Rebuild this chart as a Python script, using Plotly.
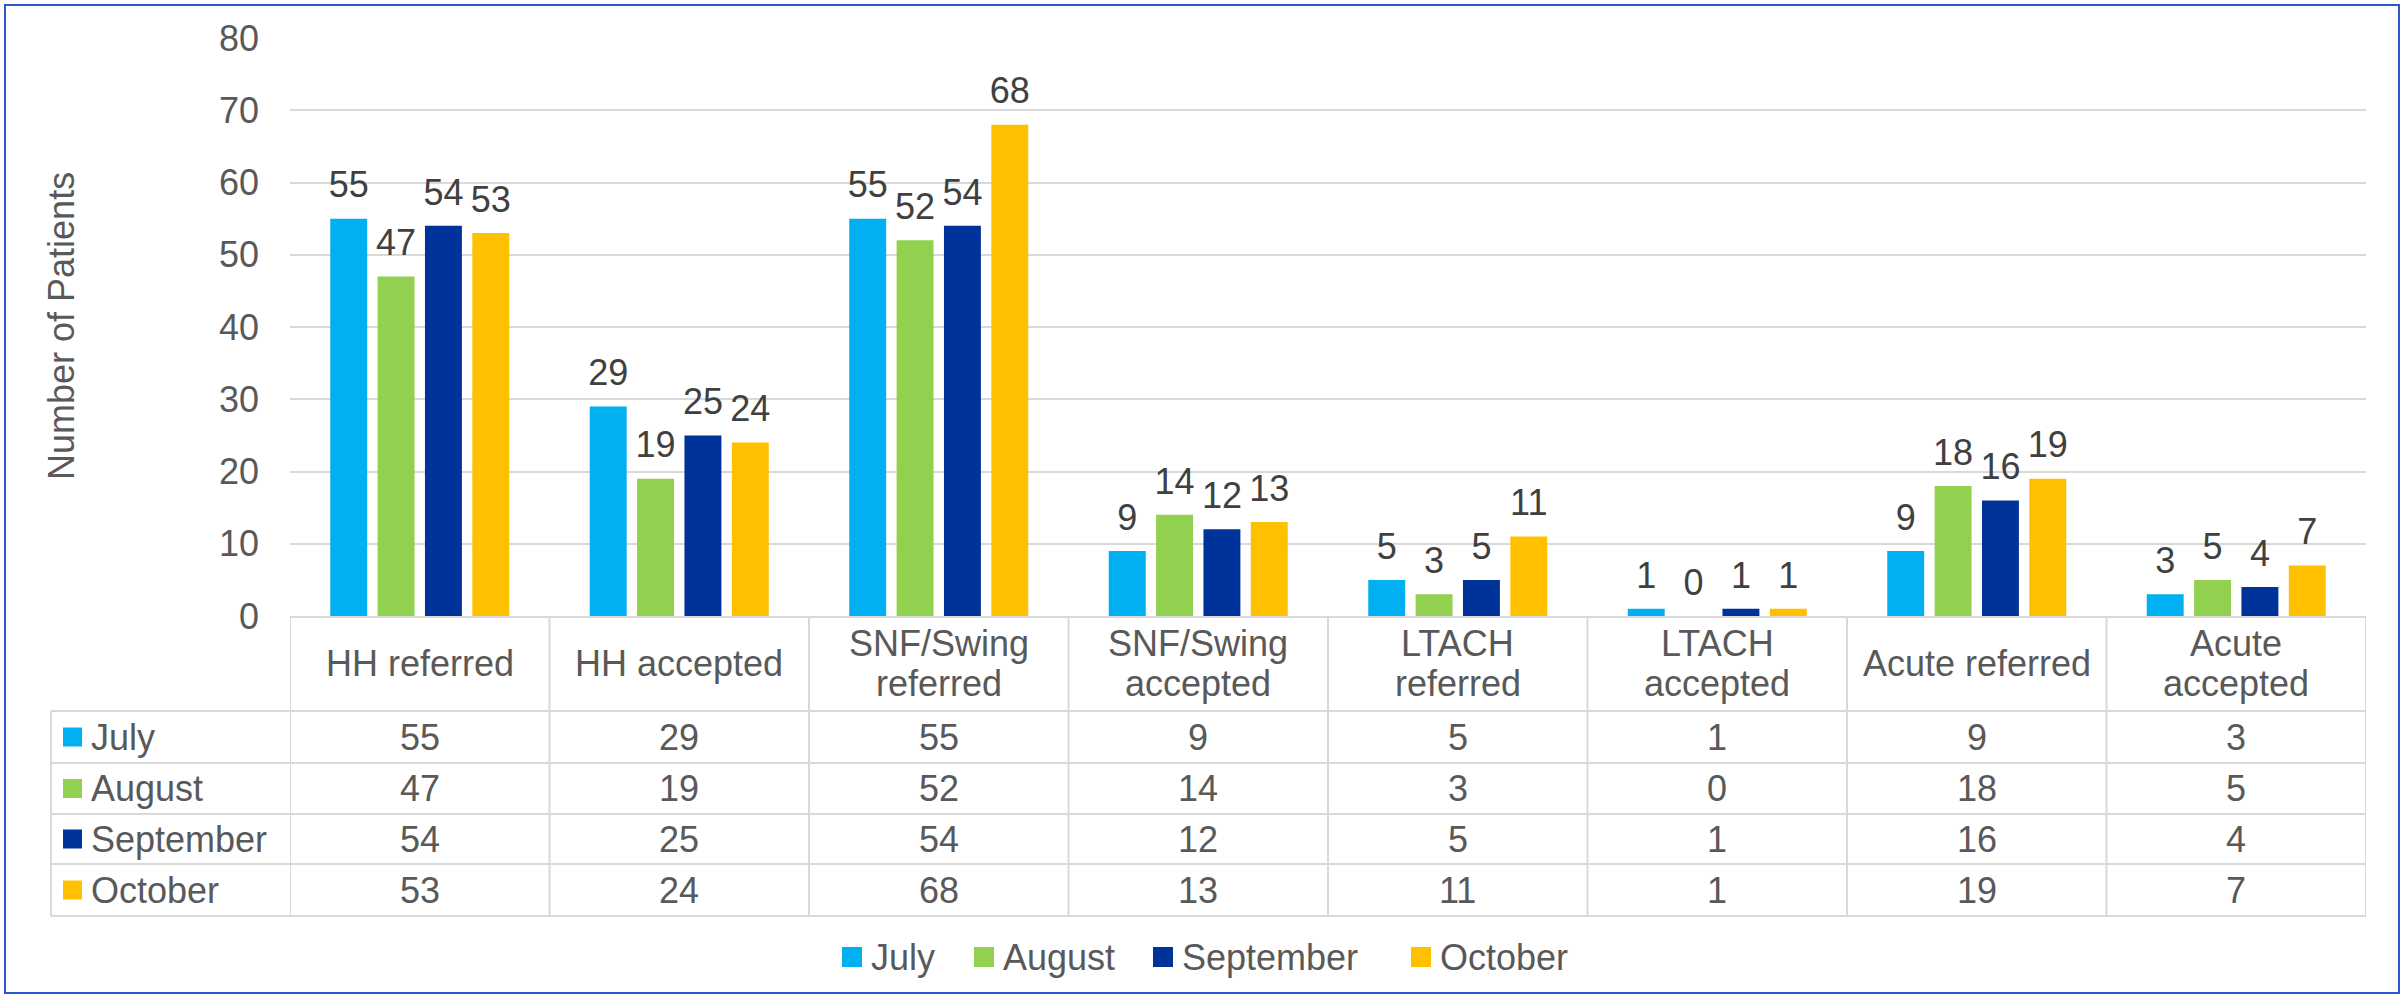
import plotly.graph_objects as go

# ---------------- data ----------------
categories = ["HH referred", "HH accepted", "SNF/Swing referred", "SNF/Swing accepted",
              "LTACH referred", "LTACH accepted", "Acute referred", "Acute accepted"]
header_labels = ["HH referred", "HH accepted", "SNF/Swing<br>referred", "SNF/Swing<br>accepted",
                 "LTACH<br>referred", "LTACH<br>accepted", "Acute referred", "Acute<br>accepted"]
months = ["July", "August", "September", "October"]
july = [55, 29, 55, 9, 5, 1, 9, 3]
august = [47, 19, 52, 14, 3, 0, 18, 5]
september = [54, 25, 54, 12, 5, 1, 16, 4]
october = [53, 24, 68, 13, 11, 1, 19, 7]
y_ticks = [0, 10, 20, 30, 40, 50, 60, 70, 80]

series = [july, august, september, october]
colors = ["#00B0F0", "#92D050", "#003399", "#FFC000"]

# ---------------- geometry (pixels) ----------------
W, H = 2407, 996
L, R, T, B = 290, 2366, 38, 616
FONT = "Liberation Sans, Arial, sans-serif"
GRAY = "#595959"
LINE = "#D9D9D9"
GAP = 0.27


def xp(px):
    return (px - L) / (R - L)


def yp(py):
    return (B - py) / (B - T)


fig = go.Figure()
for name, vals, col in zip(months, series, colors):
    fig.add_trace(go.Bar(
        x=categories, y=vals, name=name, marker=dict(color=col, line=dict(width=0)),
        offsetgroup=name, showlegend=False,
    ))
# data labels, grouped like the bars
for name, vals, col in zip(months, series, colors):
    fig.add_trace(go.Scatter(
        x=categories, y=vals, name=name, mode="markers+text",
        marker=dict(size=18, opacity=0, color=col),
        text=[str(v) for v in vals], textposition="top center",
        textfont=dict(size=36, color="#404040", family=FONT),
        offsetgroup=name, cliponaxis=False, showlegend=False, hoverinfo="skip",
    ))

shapes = []
annotations = []

# table geometry
row_lines = [711, 763, 814, 864, 916]
table_left = 51
for yl in row_lines:
    shapes.append(dict(type="line", xref="paper", yref="paper", x0=xp(table_left), x1=1,
                       y0=yp(yl), y1=yp(yl), line=dict(color=LINE, width=2)))
shapes.append(dict(type="line", xref="paper", yref="paper", x0=xp(table_left), x1=xp(table_left),
                   y0=yp(row_lines[0]), y1=yp(row_lines[-1]), line=dict(color=LINE, width=2)))
for i in range(len(categories) + 1):
    shapes.append(dict(type="line", xref="x", yref="paper", x0=i - 0.5, x1=i - 0.5,
                       y0=0, y1=yp(row_lines[-1]), line=dict(color=LINE, width=2)))

# header labels (each line placed separately for tighter line spacing)
head_mid = (B + row_lines[0]) / 2
line_step = 40
for i, lab in enumerate(header_labels):
    parts = lab.split("<br>")
    n = len(parts)
    for k, part in enumerate(parts):
        yc = head_mid + (k - (n - 1) / 2) * line_step
        annotations.append(dict(xref="x", yref="paper", x=i, y=yp(yc),
                                text=part, showarrow=False, xanchor="center", yanchor="middle",
                                font=dict(size=36, color=GRAY, family=FONT)))
# body rows
for r, (name, vals, col) in enumerate(zip(months, series, colors)):
    top, bot = row_lines[r], row_lines[r + 1]
    yc = (top + bot) / 2
    shapes.append(dict(type="rect", xref="paper", yref="paper", x0=xp(63), x1=xp(82),
                       y0=yp(yc - 9.5), y1=yp(yc + 9.5), fillcolor=col, line=dict(width=0)))
    annotations.append(dict(xref="paper", yref="paper", x=xp(89), y=yp(yc), text=name,
                            showarrow=False, xanchor="left", yanchor="middle",
                            font=dict(size=36, color=GRAY, family=FONT)))
    for i, v in enumerate(vals):
        annotations.append(dict(xref="x", yref="paper", x=i, y=yp(yc), text=str(v),
                                showarrow=False, xanchor="center", yanchor="middle",
                                font=dict(size=36, color=GRAY, family=FONT)))

# bottom legend
legend_sq_x = [842, 974, 1153, 1411]
legend_y = 957
for name, col, sx in zip(months, colors, legend_sq_x):
    shapes.append(dict(type="rect", xref="paper", yref="paper", x0=xp(sx), x1=xp(sx + 20),
                       y0=yp(legend_y - 10), y1=yp(legend_y + 10), fillcolor=col, line=dict(width=0)))
    annotations.append(dict(xref="paper", yref="paper", x=xp(sx + 27), y=yp(legend_y), text=name,
                            showarrow=False, xanchor="left", yanchor="middle",
                            font=dict(size=36, color=GRAY, family=FONT)))

# y axis title
annotations.append(dict(xref="paper", yref="paper", x=xp(61), y=yp(326), text="Number of Patients",
                        textangle=-90, showarrow=False, xanchor="center", yanchor="middle",
                        font=dict(size=36, color=GRAY, family=FONT)))

# outer border
shapes.append(dict(type="rect", xref="paper", yref="paper", x0=xp(5), x1=xp(2399),
                   y0=yp(993), y1=yp(5), line=dict(color="#2F57CC", width=2), fillcolor="rgba(0,0,0,0)"))

fig.update_layout(
    width=W, height=H,
    margin=dict(l=L, r=W - R, t=T, b=H - B, pad=0),
    paper_bgcolor="white", plot_bgcolor="white",
    barmode="group", bargap=GAP, bargroupgap=0.22,
    scattermode="group", scattergap=GAP,
    font=dict(family=FONT, size=36, color=GRAY),
    shapes=shapes, annotations=annotations,
    showlegend=False,
    xaxis=dict(range=[-0.5, len(categories) - 0.5], showticklabels=False, showgrid=False,
               zeroline=False, showline=True, linecolor=LINE, linewidth=2, ticks=""),
    yaxis=dict(range=[0, 80], tickvals=y_ticks, showgrid=True, gridcolor=LINE, gridwidth=2,
               zeroline=False, showline=False, ticks="", ticklabelstandoff=30,
               tickfont=dict(size=36, color=GRAY, family=FONT)),
)

fig.write_html("out.html", config={"displayModeBar": False},
               post_script="document.body.style.margin='0';")
